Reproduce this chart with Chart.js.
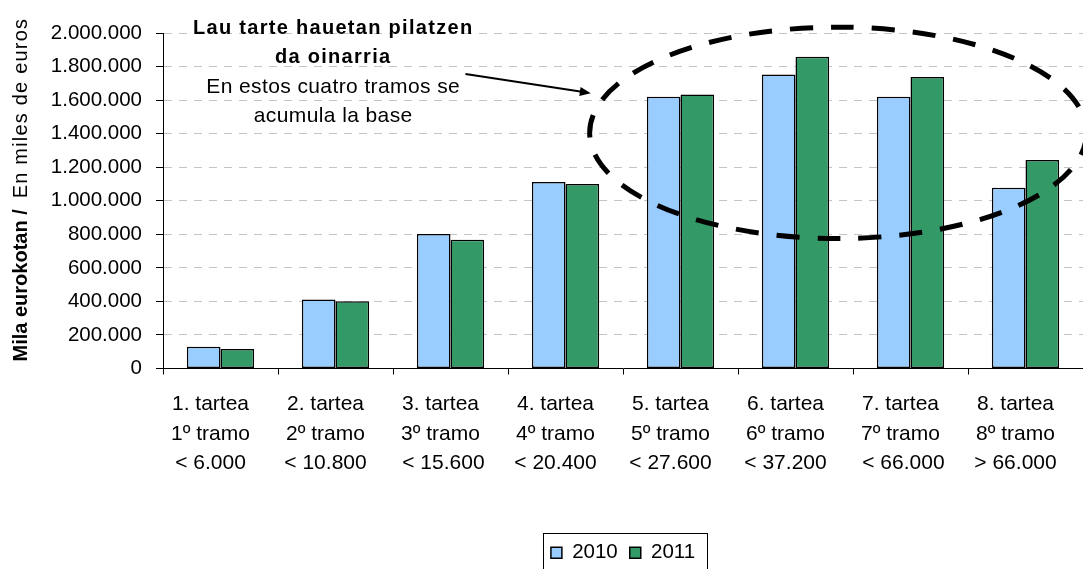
<!DOCTYPE html>
<html>
<head>
<meta charset="utf-8">
<script src="https://cdn.jsdelivr.net/npm/chart.js@4"></script>
<style>
  html, body { margin: 0; padding: 0; background: #fff; overflow: hidden; }
  #wrap { width: 1083px; height: 569px; }
</style>
</head>
<body>
<div id="wrap"><canvas id="barChart"></canvas></div>
<script>
// Datos
const categories = [
  ["1. tartea", "1º tramo", "< 6.000"],
  ["2. tartea", "2º tramo", "< 10.800"],
  ["3. tartea", "3º tramo", " < 15.600"],
  ["4. tartea", "4º tramo", "< 20.400"],
  ["5. tartea", "5º tramo", "< 27.600"],
  ["6. tartea", "6º tramo", "< 37.200"],
  ["7. tartea", "7º tramo", " < 66.000"],
  ["8. tartea", "8º tramo", "> 66.000"]
];
const values2010 = [130000, 411000, 802000, 1112000, 1620000, 1752000, 1620000, 1077000];
const values2011 = [116000, 401000, 768000, 1100000, 1633000, 1858000, 1738000, 1243000];
const seriesNames = ["2010", "2011"];
const yMax = 2000000;
const yStep = 200000;
const yTitleBold = "Mila eurokotan /";
const yTitleNormal = "En miles de euros";
const noteBold = ["Lau tarte hauetan pilatzen", "da oinarria"];
const noteNormal = ["En estos cuatro tramos se", "acumula la base"];

const FONT = "'Liberation Sans', Arial, sans-serif";
Chart.defaults.font.family = FONT;
Chart.defaults.font.size = 20;
Chart.defaults.color = "#000";

function miles(v) {
  return String(v).replace(/\B(?=(\d{3})+(?!\d))/g, ".");
}

// titulo eje Y (dos partes, negrita + normal)
const yTitle = {
  id: "yTitle",
  afterDraw(chart) {
    const ctx = chart.ctx;
    ctx.save();
    ctx.translate(21, chart.chartArea.bottom - 7);
    ctx.rotate(-Math.PI / 2);
    ctx.textBaseline = "middle";
    ctx.textAlign = "left";
    ctx.fillStyle = "#000";
    ctx.font = "bold 20px " + FONT;
    ctx.fillText(yTitleBold, 0, 0);
    const w = ctx.measureText(yTitleBold).width;
    ctx.font = "20px " + FONT;
    ctx.letterSpacing = "1.2px";
    ctx.fillText(yTitleNormal, w + 11, 0);
    ctx.restore();
  }
};

// elipse, flecha y texto
const notes = {
  id: "notes",
  afterDatasetsDraw(chart) {
    const ctx = chart.ctx;
    const x = chart.scales.x, y = chart.scales.y;

    ctx.save();
    const cx = x.getPixelForValue(5.37), cy = y.getPixelForValue(1405000);
    const rx = x.getPixelForValue(7.53) - cx;
    const ry = cy - y.getPixelForValue(2035000);
    ctx.beginPath();
    ctx.ellipse(cx, cy, rx, ry, 0, 0, Math.PI * 2);
    ctx.setLineDash([23, 18]);
    ctx.lineWidth = 5;
    ctx.strokeStyle = "#000";
    ctx.stroke();
    ctx.restore();

    // flecha
    const x1 = x.getPixelForValue(2.13), y1 = y.getPixelForValue(1756000);
    const x2 = x.getPixelForValue(3.22), y2 = y.getPixelForValue(1641000);
    const a = Math.atan2(y2 - y1, x2 - x1);
    ctx.save();
    ctx.strokeStyle = "#000";
    ctx.fillStyle = "#000";
    ctx.lineWidth = 2;
    ctx.beginPath();
    ctx.moveTo(x1, y1);
    ctx.lineTo(x2 - 9 * Math.cos(a), y2 - 9 * Math.sin(a));
    ctx.stroke();
    ctx.beginPath();
    ctx.moveTo(x2, y2);
    ctx.lineTo(x2 - 11 * Math.cos(a) + 4.5 * Math.sin(a), y2 - 11 * Math.sin(a) - 4.5 * Math.cos(a));
    ctx.lineTo(x2 - 11 * Math.cos(a) - 4.5 * Math.sin(a), y2 - 11 * Math.sin(a) + 4.5 * Math.cos(a));
    ctx.closePath();
    ctx.fill();

    // texto
    const tx = x.getPixelForValue(0.98);
    ctx.textAlign = "center";
    ctx.textBaseline = "middle";
    ctx.font = "bold 20px " + FONT;
    ctx.letterSpacing = "1.3px";
    ctx.fillText(noteBold[0], tx, y.getPixelForValue(2029000));
    ctx.fillText(noteBold[1], tx, y.getPixelForValue(1857000));
    ctx.font = "21px " + FONT;
    ctx.letterSpacing = "0.4px";
    ctx.fillText(noteNormal[0], tx, y.getPixelForValue(1677000));
    ctx.fillText(noteNormal[1], tx, y.getPixelForValue(1505000));
    ctx.restore();
  }
};

// marco de la leyenda
const legendFrame = {
  id: "legendFrame",
  afterDraw(chart) {
    const boxes = chart.legend.legendHitBoxes;
    if (!boxes || !boxes.length) return;
    const first = boxes[0], last = boxes[boxes.length - 1];
    const mid = first.top + first.height / 2;
    const ctx = chart.ctx;
    ctx.save();
    ctx.strokeStyle = "#000";
    ctx.lineWidth = 1;
    ctx.strokeRect(Math.round(first.left - 8) + 0.5, Math.round(mid - 20) + 0.5,
      Math.round(last.left + last.width - first.left + 20), 45);
    ctx.restore();
  }
};

new Chart(document.getElementById("barChart"), {
  type: "bar",
  data: {
    labels: categories,
    datasets: [{
      label: seriesNames[0],
      data: values2010,
      backgroundColor: "#99CCFF",
      borderColor: "#000",
      borderWidth: 1.5,
      borderSkipped: false
    }, {
      label: seriesNames[1],
      data: values2011,
      backgroundColor: "#339966",
      borderColor: "#000",
      borderWidth: 1.5,
      borderSkipped: false
    }]
  },
  options: {
    responsive: true,
    maintainAspectRatio: false,
    animation: false,
    categoryPercentage: 0.585,
    barPercentage: 1.0,
    layout: { padding: { top: 33, left: 0, right: 0, bottom: -4 } },
    scales: {
      x: {
        afterFit(scale) { scale.height = 162; },
        grid: {
          display: true,
          drawOnChartArea: false,
          drawTicks: true,
          tickLength: 6,
          tickColor: "#000",
          offset: true
        },
        border: { color: "#000", width: 1 },
        ticks: {
          color: "#000",
          padding: 15,
          labelOffset: -10,
          maxRotation: 0,
          autoSkip: false,
          font: { size: 21, lineHeight: 1.405 }
        }
      },
      y: {
        min: 0,
        max: yMax,
        afterFit(scale) { scale.width = 163; },
        grid: {
          color: (c) => (c.tick && c.tick.value === 0 ? "rgba(0,0,0,0)" : "#c4c4c4"),
          lineWidth: 1,
          tickLength: 7,
          tickColor: "#000"
        },
        border: { color: "#000", width: 1, dash: [8, 7] },
        ticks: {
          stepSize: yStep,
          color: "#000",
          padding: 14,
          font: { size: 20.5 },
          callback: (v) => miles(v)
        }
      }
    },
    plugins: {
      legend: {
        position: "bottom",
        fullSize: false,
        labels: {
          boxWidth: 11,
          boxHeight: 11,
          padding: 12,
          color: "#000",
          font: { size: 20.5 }
        }
      },
      tooltip: { enabled: false }
    }
  },
  plugins: [yTitle, notes, legendFrame]
});
</script>
</body>
</html>
